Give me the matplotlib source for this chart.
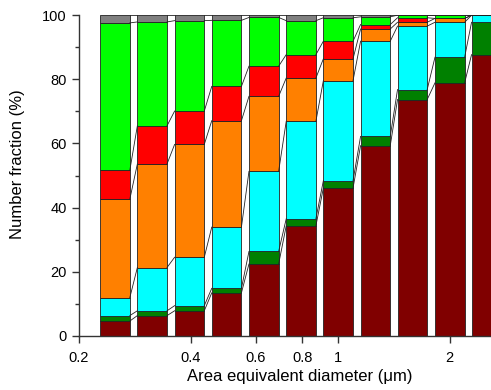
import numpy as np
import matplotlib
matplotlib.use('Agg')
import matplotlib.pyplot as plt
from matplotlib.ticker import FixedLocator, NullLocator, MultipleLocator

plt.rcParams['font.family'] = ['Liberation Sans', 'DejaVu Sans']

# bin centres (um), log-spaced
diameters = [0.25, 0.315, 0.397, 0.5, 0.63, 0.794, 1.0, 1.26, 1.585, 2.0, 2.51]

# number fraction (%) of each class, bottom to top
maroon = [4.6, 6.3, 7.8, 13.4, 22.4, 34.3, 46.1, 59.3, 73.7, 78.9, 87.7]
dkgreen = [1.7, 1.5, 1.6, 1.4, 3.9, 2.2, 2.3, 2.9, 3.1, 8.0, 10.1]
cyan = [5.6, 13.5, 15.1, 19.1, 25.0, 30.4, 31.2, 29.7, 19.8, 10.9, 2.2]
orange = [30.7, 32.3, 35.2, 33.2, 23.4, 13.5, 6.8, 3.8, 1.2, 1.2, 0.0]
red = [9.0, 11.9, 10.4, 10.7, 9.4, 7.3, 5.5, 1.4, 1.4, 0.0, 0.0]
lime = [46.0, 32.4, 28.2, 20.6, 15.2, 10.6, 7.3, 2.4, 0.8, 1.0, 0.0]
gray = [2.4, 2.1, 1.7, 1.6, 0.7, 1.7, 0.8, 0.5, 0.0, 0.0, 0.0]

layers = [maroon, dkgreen, cyan, orange, red, lime, gray]
colors = ['#800000', '#008000', '#00FFFF', '#FF8000', '#FF0000', '#00FF00', '#808080']

fig = plt.figure(figsize=(4.91, 3.90), dpi=100)
ax = fig.add_axes([0.161, 0.139, 0.839, 0.822])

d = np.array(diameters)
left = d * 10 ** -0.04
right = d * 10 ** 0.04

bottom = np.zeros(len(d))
for vals, c in zip(layers, colors):
    v = np.array(vals)
    ax.bar(left, v, width=right - left, bottom=bottom, align='edge',
           color=c, edgecolor='#222222', linewidth=0.6, zorder=2)
    bottom = bottom + v
    # connect lines between neighbouring bars
    for i in range(len(d) - 1):
        ax.plot([right[i], left[i + 1]], [bottom[i], bottom[i + 1]],
                color='#222222', lw=0.6, zorder=3)

ax.set_xscale('log')
ax.set_xlim(0.2, 2.583)
ax.set_ylim(0, 100)

ax.xaxis.set_major_locator(FixedLocator([0.2, 0.4, 0.6, 0.8, 1, 2]))
ax.xaxis.set_minor_locator(NullLocator())
ax.set_xticklabels(['0.2', '0.4', '0.6', '0.8', '1', '2'])
ax.yaxis.set_major_locator(MultipleLocator(20))
ax.yaxis.set_minor_locator(MultipleLocator(10))

for s in ['top', 'right']:
    ax.spines[s].set_visible(False)
for s in ['left', 'bottom']:
    ax.spines[s].set_linewidth(1.0)
    ax.spines[s].set_color('#333333')

ax.tick_params(axis='both', which='major', length=5, width=1.0,
               labelsize=10.5, color='#333333', pad=4)
ax.tick_params(axis='y', which='minor', length=3, width=1.0, color='#333333')
ax.tick_params(axis='x', pad=6)

ax.set_xlabel('Area equivalent diameter (\u03bcm)', fontsize=12)
ax.set_ylabel('Number fraction (%)', fontsize=12)
ax.xaxis.set_label_coords(0.536, -0.105)
ax.yaxis.set_label_coords(-0.13, 0.534)

fig.savefig('out.png', dpi=100)
